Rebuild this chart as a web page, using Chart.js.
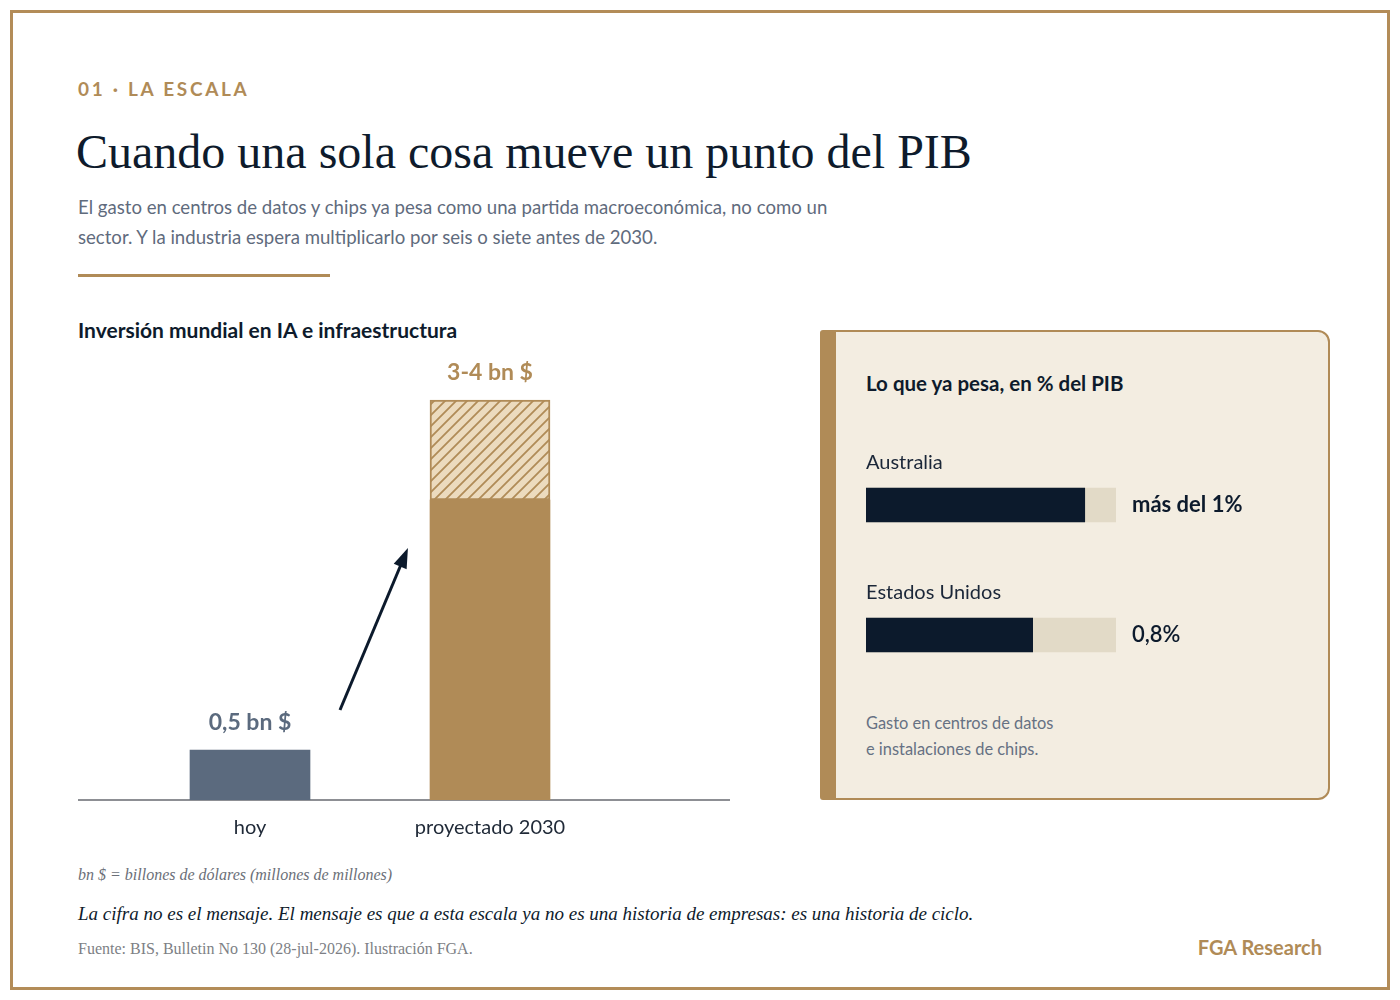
<!DOCTYPE html>
<html lang="es">
<head>
<meta charset="utf-8">
<title>La escala</title>
<script src="https://cdn.jsdelivr.net/npm/chart.js@4.4.1/dist/chart.umd.min.js"></script>
<style>
  html, body { margin: 0; padding: 0; background: #fff; }
  body { width: 1400px; height: 1000px; position: relative; overflow: hidden; font-family: Lato, "Noto Sans", sans-serif; }
  .frame { position: absolute; left: 10px; top: 10px; width: 1380px; height: 980px; box-sizing: border-box; border: 3px solid #b38c58; }
  .abs { position: absolute; margin: 0; white-space: nowrap; }
  .kicker { left: 78px; top: 77px; font-size: 19px; font-weight: 700; letter-spacing: 2.7px; color: #b08b57; }
  .title { left: 76px; top: 124px; font-family: "Liberation Serif", "DejaVu Serif", serif; font-size: 48px; font-weight: 400; color: #0e1b2c; }
  .sub { left: 78px; top: 192px; font-size: 18.6px; line-height: 30px; color: #5f6b7d; white-space: normal; width: 790px; }
  .rule { left: 78px; top: 274px; width: 252px; height: 3px; background: #b08b57; }
  .ctitle { left: 78px; top: 317px; font-size: 21px; font-weight: 700; color: #0e1b2c; }
  #main { position: absolute; left: 78px; top: 350px; }
  .card { position: absolute; left: 820px; top: 330px; width: 510px; height: 470px; box-sizing: border-box; background: #f3ede1; border: 2px solid #b08b57; border-left: 16px solid #b08b57; border-radius: 3px 12px 12px 3px; }
  .ptitle { left: 866px; top: 371px; font-size: 20.5px; font-weight: 700; color: #0e1b2c; }
  #side { position: absolute; left: 866px; top: 440px; }
  .pnote { left: 866px; top: 710px; font-size: 16.4px; line-height: 26px; color: #667183; }
  .def { left: 78px; top: 866px; font-family: "Liberation Serif", "DejaVu Serif", serif; font-style: italic; font-size: 16px; color: #6b6f78; }
  .msg { left: 78px; top: 903px; font-family: "Liberation Serif", "DejaVu Serif", serif; font-style: italic; font-size: 19px; color: #0e1b2c; }
  .src { left: 78px; top: 940px; font-family: "Liberation Serif", "DejaVu Serif", serif; font-size: 16px; color: #7d7f85; }
  .brand { right: 78px; top: 935px; font-size: 20px; font-weight: 700; color: #b08b57; }
</style>
</head>
<body>
<div class="frame"></div>
<p class="abs kicker">01 · LA ESCALA</p>
<h1 class="abs title">Cuando una sola cosa mueve un punto del PIB</h1>
<p class="abs sub">El gasto en centros de datos y chips ya pesa como una partida macroeconómica, no como un sector. Y la industria espera multiplicarlo por seis o siete antes de 2030.</p>
<div class="abs rule"></div>
<p class="abs ctitle">Inversión mundial en IA e infraestructura</p>
<canvas id="main" width="652" height="506"></canvas>

<div class="card"></div>
<p class="abs ptitle">Lo que ya pesa, en % del PIB</p>
<canvas id="side" width="434" height="260"></canvas>
<p class="abs pnote">Gasto en centros de datos<br>e instalaciones de chips.</p>

<p class="abs def">bn $ = billones de dólares (millones de millones)</p>
<p class="abs msg">La cifra no es el mensaje. El mensaje es que a esta escala ya no es una historia de empresas: es una historia de ciclo.</p>
<p class="abs src">Fuente: BIS, Bulletin No 130 (28-jul-2026). Ilustración FGA.</p>
<p class="abs brand">FGA Research</p>

<script>
// datos: inversión mundial (billones de $)
const categories = ['hoy', 'proyectado 2030'];
const baseValues = [0.5, 3];      // parte firme
const rangeValues = [null, 1];    // tramo incierto 3 -> 4
const valueLabels = ['0,5 bn $', '3-4 bn $'];

// datos: peso en % del PIB
const countries = ['Australia', 'Estados Unidos'];
const gdpShare = [1.05, 0.8];
const gdpLabels = ['más del 1%', '0,8%'];
const trackMax = 1.2;

const GOLD = '#b08b57';
const SLATE = '#5b6a7e';
const NAVY = '#0c1a2c';

function hatch() {
  const s = 11;
  const c = document.createElement('canvas');
  c.width = s; c.height = s;
  const g = c.getContext('2d');
  g.fillStyle = '#ecdbbe';
  g.fillRect(0, 0, s, s);
  g.strokeStyle = GOLD;
  g.lineWidth = 1.8;
  g.beginPath();
  g.moveTo(-2, s + 2); g.lineTo(s + 2, -2);
  g.moveTo(-2, 2); g.lineTo(2, -2);
  g.moveTo(s - 2, s + 2); g.lineTo(s + 2, s - 2);
  g.stroke();
  return g.createPattern(c, 'repeat');
}

const barLabels = {
  id: 'barLabels',
  afterDatasetsDraw(chart) {
    const { ctx, scales: { x, y } } = chart;
    ctx.save();
    ctx.textAlign = 'center';
    ctx.textBaseline = 'middle';
    ctx.font = 'bold 23px Lato';
    categories.forEach((c, i) => {
      const top = baseValues[i] + (rangeValues[i] || 0);
      ctx.fillStyle = i === 0 ? SLATE : GOLD;
      ctx.fillText(valueLabels[i], x.getPixelForValue(i), y.getPixelForValue(top) - 27);
    });
    // flecha de crecimiento
    const x0 = x.getPixelForValue(0.375), y0 = y.getPixelForValue(0.9);
    const x1 = x.getPixelForValue(0.658), y1 = y.getPixelForValue(2.52);
    const a = Math.atan2(y1 - y0, x1 - x0);
    ctx.strokeStyle = NAVY;
    ctx.fillStyle = NAVY;
    ctx.lineWidth = 3;
    ctx.beginPath();
    ctx.moveTo(x0, y0);
    ctx.lineTo(x1 - 10 * Math.cos(a), y1 - 10 * Math.sin(a));
    ctx.stroke();
    ctx.beginPath();
    ctx.moveTo(x1, y1);
    ctx.lineTo(x1 - 20 * Math.cos(a) + 7 * Math.sin(a), y1 - 20 * Math.sin(a) - 7 * Math.cos(a));
    ctx.lineTo(x1 - 20 * Math.cos(a) - 7 * Math.sin(a), y1 - 20 * Math.sin(a) + 7 * Math.cos(a));
    ctx.closePath();
    ctx.fill();
    ctx.restore();
  }
};

new Chart(document.getElementById('main'), {
  type: 'bar',
  data: {
    datasets: [{
      label: 'base',
      data: baseValues.map((v, i) => ({ x: i, y: v })),
      backgroundColor: [SLATE, GOLD],
      borderWidth: 0,
      barThickness: 120
    }, {
      label: 'rango',
      data: rangeValues.map((v, i) => ({ x: i, y: v })),
      backgroundColor: hatch(),
      borderColor: GOLD,
      borderWidth: 2,
      borderSkipped: false,
      barThickness: 120
    }]
  },
  options: {
    responsive: false,
    animation: false,
    layout: { padding: 0 },
    plugins: { legend: { display: false }, tooltip: { enabled: false } },
    scales: {
      x: {
        type: 'linear',
        stacked: true,
        offset: false,
        min: -172 / 240,
        max: 2,
        grid: { display: false, drawTicks: false },
        border: { display: true, color: '#8d8f94', width: 2 },
        afterBuildTicks: (s) => { s.ticks = categories.map((c, i) => ({ value: i })); },
        ticks: {
          padding: 16,
          maxRotation: 0,
          color: '#1f2937',
          font: { family: 'Lato', size: 20 },
          callback: (v) => categories[v]
        }
      },
      y: { stacked: true, display: false, min: 0, max: 4.5 }
    }
  },
  plugins: [barLabels]
});

const sideLabels = {
  id: 'sideLabels',
  afterDatasetsDraw(chart) {
    const { ctx, chartArea, scales: { y } } = chart;
    ctx.save();
    ctx.textBaseline = 'middle';
    countries.forEach((c, i) => {
      const cy = y.getPixelForValue(i);
      ctx.fillStyle = '#1b2738';
      ctx.font = '20px Lato';
      ctx.textAlign = 'left';
      ctx.fillText(c, chartArea.left, cy - 42);
      ctx.fillStyle = NAVY;
      ctx.font = (i === 0 ? 'bold' : '600') + ' 22px Lato';
      ctx.fillText(gdpLabels[i], chartArea.right + 16, cy);
    });
    ctx.restore();
  }
};

new Chart(document.getElementById('side'), {
  type: 'bar',
  data: {
    labels: countries,
    datasets: [{
      label: '% PIB',
      data: gdpShare,
      backgroundColor: NAVY,
      barThickness: 34,
      grouped: false,
      order: 0
    }, {
      label: 'escala',
      data: countries.map(() => trackMax),
      backgroundColor: '#e2dac7',
      barThickness: 34,
      grouped: false,
      order: 1
    }]
  },
  options: {
    indexAxis: 'y',
    responsive: false,
    animation: false,
    layout: { padding: { right: 184 } },
    plugins: { legend: { display: false }, tooltip: { enabled: false } },
    scales: {
      x: { display: false, min: 0, max: trackMax },
      y: { display: false }
    }
  },
  plugins: [sideLabels]
});
</script>
</body>
</html>
